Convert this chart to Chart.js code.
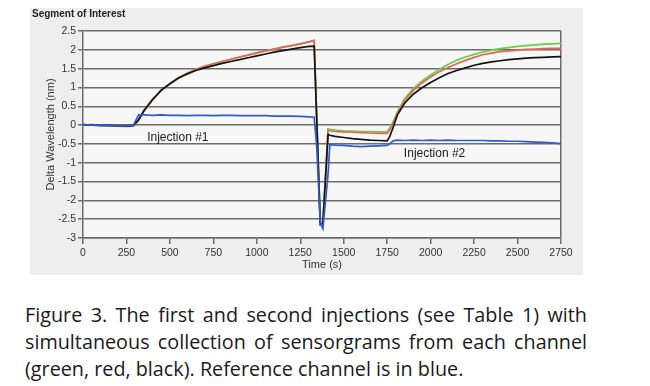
<!DOCTYPE html>
<html><head><meta charset="utf-8">
<script src="https://cdn.jsdelivr.net/npm/chart.js@4.4.1/dist/chart.umd.min.js"></script>
<style>
html,body{margin:0;padding:0;background:#fff;width:650px;height:386px;overflow:hidden;}
#panel{position:absolute;left:30px;top:8px;width:553px;height:267px;}
#panel canvas{display:block;}
.cap{position:absolute;left:25px;font-family:"Open Sans","Noto Sans",sans-serif;font-size:20px;line-height:27px;color:#1a1a1a;white-space:nowrap;transform-origin:0 0;}
</style></head><body>
<div id="panel"><canvas id="c" width="553" height="267"></canvas></div>
<div class="cap" id="l1" style="top:301px">Figure 3. The first and second injections (see Table 1) with</div>
<div class="cap" id="l2" style="top:328px">simultaneous collection of sensorgrams from each channel</div>
<div class="cap" id="l3" style="top:355px">(green, red, black). Reference channel is in blue.</div>
<script>
// ---- data ----
const times = [0,50,100,150,200,250,290,320,350,400,450,500,550,600,650,700,750,800,850,900,950,1000,1050,1100,1150,1200,1250,1300,1330,1345,1365,1380,1410,1420,1450,1500,1550,1600,1650,1700,1750,1765,1785,1810,1850,1900,1950,2000,2050,2100,2150,2200,2250,2300,2350,2400,2450,2500,2550,2600,2650,2700,2750];
const greenChannel = [0.00,0.01,-0.01,-0.02,-0.03,-0.04,-0.02,0.12,0.37,0.67,0.92,1.10,1.26,1.38,1.48,1.56,1.63,1.69,1.75,1.81,1.86,1.92,1.97,2.02,2.07,2.11,2.16,2.21,2.24,0.15,-2.55,-2.6,-0.10,-0.11,-0.13,-0.15,-0.16,-0.17,-0.17,-0.18,-0.18,-0.08,0.10,0.36,0.70,0.97,1.17,1.33,1.48,1.61,1.72,1.81,1.88,1.94,1.99,2.03,2.06,2.09,2.11,2.13,2.15,2.16,2.17];
const redChannel = [0.00,0.01,-0.01,-0.02,-0.02,-0.03,-0.02,0.12,0.37,0.67,0.92,1.10,1.26,1.38,1.48,1.56,1.63,1.69,1.75,1.81,1.86,1.92,1.97,2.02,2.07,2.11,2.16,2.21,2.25,0.15,-2.6,-2.6,-0.13,-0.15,-0.17,-0.18,-0.19,-0.20,-0.21,-0.22,-0.22,-0.12,0.05,0.33,0.65,0.92,1.12,1.28,1.42,1.53,1.63,1.72,1.80,1.87,1.91,1.95,1.97,1.99,2.01,2.02,2.03,2.04,2.04];
const blackChannel = [0.01,0.00,-0.01,-0.01,-0.02,-0.03,-0.01,0.15,0.38,0.68,0.93,1.10,1.25,1.36,1.45,1.52,1.58,1.64,1.69,1.74,1.79,1.84,1.89,1.94,1.98,2.02,2.06,2.09,2.10,0.10,-2.65,-2.62,-0.25,-0.27,-0.30,-0.33,-0.36,-0.38,-0.40,-0.41,-0.42,-0.30,-0.05,0.28,0.58,0.82,0.99,1.13,1.26,1.37,1.45,1.52,1.59,1.64,1.68,1.71,1.74,1.76,1.78,1.79,1.80,1.81,1.82];
const blueReference = [0.01,0.00,-0.01,-0.01,-0.02,-0.03,0.00,0.27,0.27,0.26,0.27,0.26,0.26,0.25,0.26,0.26,0.25,0.26,0.26,0.25,0.25,0.25,0.25,0.24,0.24,0.24,0.23,0.22,0.21,-0.6,-2.6,-2.75,-1.3,-0.52,-0.53,-0.54,-0.56,-0.57,-0.56,-0.55,-0.54,-0.50,-0.42,-0.40,-0.41,-0.40,-0.41,-0.40,-0.41,-0.40,-0.41,-0.41,-0.41,-0.41,-0.42,-0.42,-0.43,-0.43,-0.44,-0.45,-0.46,-0.47,-0.49];
const xTickValues = [0,250,500,750,1000,1250,1500,1750,2000,2250,2500,2750];
const xTickLabels = ['0','250','500','750','1000','1250','1500','1750','2000','2250','2500','2750'];
const yTickValues = [-3,-2.5,-2,-1.5,-1,-0.5,0,0.5,1,1.5,2,2.5];
const yTickLabels = ['-3','-2.5','-2','-1.5','-1','-0.5','0','0.5','1','1.5','2','2.5'];
const annotations = [
  {text:'Injection #1', t:369, v:-0.33},
  {text:'Injection #2', t:1846, v:-0.77}
];

const pts = arr => times.map((t,i)=>({x:t, y:arr[i]}));
const narrow = "'Liberation Sans Narrow','Liberation Sans',Arial,sans-serif";
const gridCol = '#6c6c6c';

const bgPlugin = {
  id:'bg',
  beforeDraw(chart){
    const {ctx, chartArea:a} = chart;
    ctx.save();
    ctx.fillStyle = '#eeeeee';
    ctx.fillRect(0,0,chart.width,chart.height);
    ctx.fillStyle = '#f7f7f7';
    ctx.fillRect(a.left,a.top,a.right-a.left,a.bottom-a.top);
    ctx.restore();
  }
};
const annotPlugin = {
  id:'annot',
  afterDatasetsDraw(chart){
    const {ctx, scales:{x,y}} = chart;
    ctx.save();
    ctx.font = "12px 'Liberation Sans',Arial,sans-serif";
    ctx.fillStyle = '#1a1a1a';
    ctx.textAlign = 'left';
    ctx.textBaseline = 'middle';
    annotations.forEach(a=>ctx.fillText(a.text, x.getPixelForValue(a.t), y.getPixelForValue(a.v)));
    ctx.restore();
  }
};

new Chart(document.getElementById('c'), {
  type:'line',
  data:{datasets:[
    {label:'Reference (blue)', data:pts(blueReference), borderColor:'#2e5bcf', order:0},
    {label:'Black', data:pts(blackChannel), borderColor:'#141414', order:1},
    {label:'Red', data:pts(redChannel), borderColor:'#e2655d', order:2},
    {label:'Green', data:pts(greenChannel), borderColor:'#63d43b', order:3}
  ]},
  options:{
    responsive:false, animation:false, devicePixelRatio:1,
    layout:{padding:{left:2,right:22,top:0,bottom:0}},
    elements:{point:{radius:0}, line:{borderWidth:1.7, tension:0}},
    plugins:{
      legend:{display:false}, tooltip:{enabled:false},
      title:{display:true, text:'Segment of Interest', align:'start', color:'#222',
        font:{family:narrow, size:10, weight:'bold'}, padding:{top:0,bottom:11}}
    },
    scales:{
      x:{type:'linear', min:0, max:2750,
        afterBuildTicks:s=>{s.ticks = xTickValues.map(v=>({value:v}));},
        afterFit:s=>{s.height = 37;},
        ticks:{autoSkip:false, maxRotation:0, padding:3, color:'#333', font:{family:narrow, size:10.5},
          callback:(v)=>xTickLabels[xTickValues.indexOf(v)]},
        grid:{lineWidth:1.5, tickLength:6, tickColor:gridCol,
          color:c=>(c.tick && c.tick.value===2750) ? gridCol : 'rgba(0,0,0,0)'},
        border:{display:true, color:gridCol, width:1.5},
        title:{display:true, text:'Time (s)', color:'#333', font:{family:narrow, size:11}, padding:{top:0,bottom:3.4}}
      },
      y:{min:-3, max:2.5,
        afterBuildTicks:s=>{s.ticks = yTickValues.map(v=>({value:v}));},
        afterFit:s=>{s.width = 51;},
        ticks:{autoSkip:false, padding:2, color:'#333', font:{family:narrow, size:10.5},
          callback:(v)=>yTickLabels[yTickValues.indexOf(v)]},
        grid:{lineWidth:1.5, tickLength:5, color:gridCol, tickColor:gridCol},
        border:{display:true, color:gridCol, width:1.5},
        title:{display:true, text:'Delta Wavelength (nm)', color:'#333', font:{family:narrow, size:11}, padding:{top:12.4,bottom:0}}
      }
    }
  },
  plugins:[bgPlugin, annotPlugin]
});

// caption layout: squeeze horizontally like the reference and justify lines 1-2
function layoutCaption(){
  const l1=document.getElementById('l1'), l2=document.getElementById('l2'), l3=document.getElementById('l3');
  l3.style.transform='none';
  const w3 = l3.offsetWidth;
  const s = 438 / w3;
  [l1,l2].forEach(el=>{
    el.style.whiteSpace='normal';
    el.style.width=(562/s)+'px';
    el.style.textAlign='justify';
    el.style.textAlignLast='justify';
  });
  [l1,l2,l3].forEach(el=>{el.style.transform='scaleX('+s+')';});
}
if (document.fonts && document.fonts.ready) document.fonts.ready.then(layoutCaption);
layoutCaption();
</script>
</body></html>
